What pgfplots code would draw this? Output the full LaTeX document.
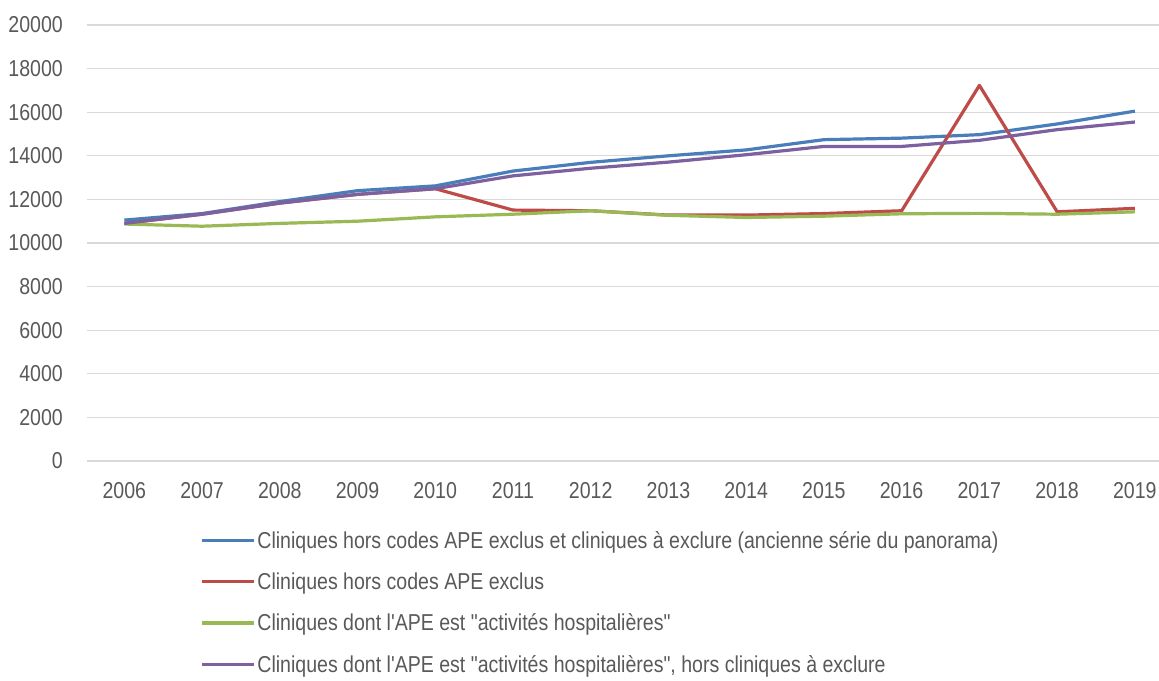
\documentclass[border=0pt]{standalone}
\usepackage{pgfplots}
\pgfplotsset{compat=1.18}
\usepackage{fontspec}
\setmainfont{Liberation Sans}[FakeStretch=0.85]
\newfontfamily\lsans{Liberation Sans}[FakeStretch=0.85]
\definecolor{cblue}{HTML}{4A7EBB}
\definecolor{cred}{HTML}{BE4B48}
\definecolor{cgreen}{HTML}{98B954}
\definecolor{cpurple}{HTML}{7D60A0}
\definecolor{gridgray}{HTML}{D9D9D9}
\definecolor{txtgray}{HTML}{595959}
\begin{document}
\begin{tikzpicture}
\begin{axis}[
  scale only axis, width=1072pt, height=436pt,
  at={(0,0)}, anchor=south west,
  xmin=2005.52, xmax=2019.31, ymin=0, ymax=20000,
  xtick={2006,...,2019}, ytick={0,2000,...,20000},
  scaled y ticks=false,
  /pgf/number format/1000 sep={},
  /pgf/number format/assume math mode=true,
  ymajorgrids, grid style={gridgray, line width=1.3pt},
  axis lines=left,
  x axis line style={-, draw=gridgray, line width=1.3pt},
  y axis line style={draw=none},
  major tick length=0pt,
  tick style={draw=none},
  every tick label/.append style={font=\lsans\fontsize{23}{27}\selectfont, text=txtgray},
  yticklabel style={anchor=east, inner sep=0pt, xshift=-24pt},
  xticklabel style={anchor=north, inner sep=0pt, yshift=-21pt},
  legend style={at={(113pt,-68pt)}, anchor=north west, draw=none, fill=none,
    font=\lsans\fontsize{23}{27}\selectfont, text=txtgray,
    row sep=19pt, inner sep=0pt, nodes={inner sep=2pt}},
  legend cell align=left,
  legend image code/.code={\draw[#1] (0pt,0pt) -- (52pt,0pt);},
  line join=round,
]
\addplot[cblue, line width=3.2pt] coordinates {
 (2006,11050) (2007,11350) (2008,11900) (2009,12400) (2010,12620) (2011,13300) (2012,13700)
 (2013,14000) (2014,14270) (2015,14740) (2016,14810) (2017,14970) (2018,15460) (2019,16050)};
\addlegendentry{Cliniques hors codes APE exclus et cliniques à exclure (ancienne série du panorama)}
\addplot[cred, line width=3.2pt] coordinates {
 (2006,10900) (2007,11320) (2008,11830) (2009,12230) (2010,12490) (2011,11510) (2012,11480)
 (2013,11280) (2014,11280) (2015,11350) (2016,11480) (2017,17230) (2018,11430) (2019,11590)};
\addlegendentry{Cliniques hors codes APE exclus}
\addplot[cgreen, line width=3.2pt] coordinates {
 (2006,10870) (2007,10770) (2008,10900) (2009,11000) (2010,11200) (2011,11320) (2012,11480)
 (2013,11270) (2014,11170) (2015,11230) (2016,11340) (2017,11360) (2018,11320) (2019,11430)};
\addlegendentry{Cliniques dont l'APE est "activités hospitalières"}
\addplot[cpurple, line width=3.2pt] coordinates {
 (2006,10900) (2007,11320) (2008,11830) (2009,12230) (2010,12490) (2011,13080) (2012,13430)
 (2013,13710) (2014,14050) (2015,14430) (2016,14430) (2017,14710) (2018,15200) (2019,15550)};
\addlegendentry{Cliniques dont l'APE est "activités hospitalières", hors cliniques à exclure}
\end{axis}
\pgfresetboundingbox
\path (-87pt,-219pt) rectangle (1072pt,461pt);
\end{tikzpicture}
\end{document}
